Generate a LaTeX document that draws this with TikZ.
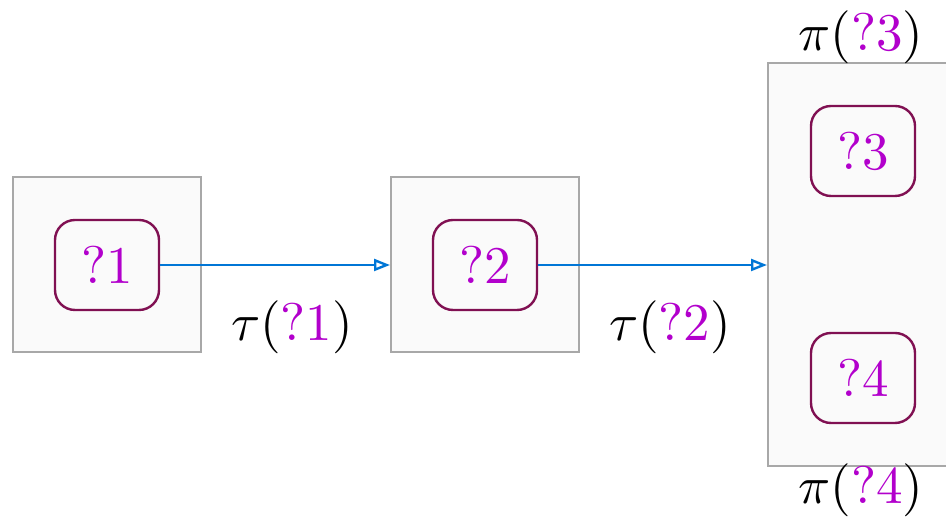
\RequirePackage{fix-cm}
\documentclass[tikz,border=0pt]{standalone}
\usetikzlibrary{arrows.meta}
\definecolor{qpurple}{RGB}{178,0,204}
\definecolor{qborder}{RGB}{128,16,82}
\definecolor{boxgray}{RGB}{168,168,168}
\definecolor{boxfill}{RGB}{250,250,250}
\definecolor{arrblue}{RGB}{0,118,214}
\tikzset{
  outerbox/.style={draw=boxgray, fill=boxfill, line width=0.4pt, inner sep=0pt},
  holebox/.style={draw=qborder, line width=0.48pt, rounded corners=4pt, minimum width=20.8pt, minimum height=18pt, inner sep=0pt, text=qpurple, font=\fontsize{10.6}{12}\selectfont},
  flow/.style={draw=arrblue, line width=0.48pt, -{Triangle[open, length=3.2pt, width=2.4pt]}},
  lab/.style={font=\fontsize{10.6}{12}\selectfont, inner sep=0pt}
}
\begin{document}
\begin{tikzpicture}[x=0.2pt, y=-0.2pt]
\useasboundingbox (0,0) rectangle (946,517);
\clip (0,0) rectangle (946,517);
\node[outerbox, minimum width=37.6pt, minimum height=35pt] (b1) at (107,265) {};
\node[outerbox, minimum width=37.6pt, minimum height=35pt] (b2) at (485,265) {};
\node[outerbox, minimum width=38pt, minimum height=80.6pt] (b3) at (863,264.5) {};
\node[holebox] (n1) at (107,265) {?1};
\node[holebox] (n2) at (485,265) {?2};
\node[holebox] (n3) at (863,151) {?3};
\node[holebox] (n4) at (863,378) {?4};
\draw[flow] (n1.east) -- (b2.west);
\draw[flow] (n2.east) -- (n2.east -| b3.west);
\node[lab] (t1) at (292,327) {$\tau(\textcolor{qpurple}{?1})$};
\node[lab] (t2) at (670,327) {$\tau(\textcolor{qpurple}{?2})$};
\node[lab] (p3) at (861,37) {$\pi(\textcolor{qpurple}{?3})$};
\node[lab] (p4) at (861,490) {$\pi(\textcolor{qpurple}{?4})$};
\end{tikzpicture}
\end{document}
